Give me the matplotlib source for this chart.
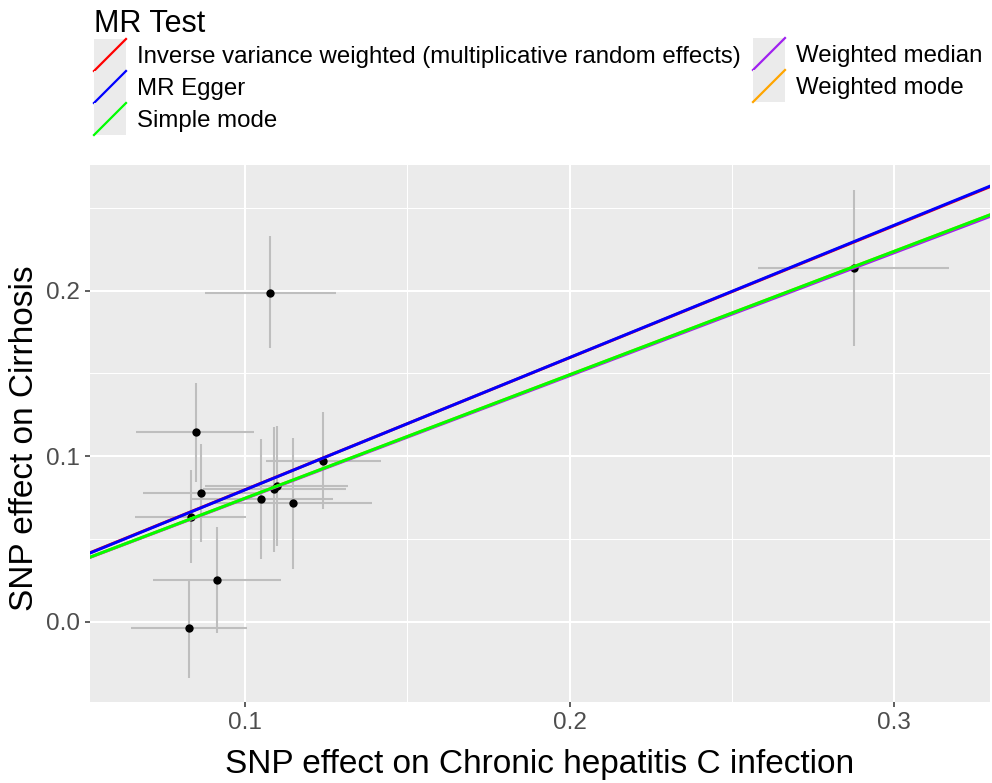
import matplotlib
matplotlib.use("Agg")
import matplotlib.pyplot as plt
from matplotlib.legend_handler import HandlerBase
from matplotlib.patches import Rectangle
from matplotlib.lines import Line2D

plt.rcParams['font.family'] = ['Liberation Sans', 'DejaVu Sans']

# SNP effects (exposure: chronic hepatitis C infection, outcome: cirrhosis)
beta_exp = [0.1078, 0.0848, 0.0864, 0.0833, 0.0913, 0.0828, 0.1050, 0.1090, 0.1098, 0.1149, 0.1241, 0.2876]
exp_lo   = [0.0877, 0.0664, 0.0685, 0.0661, 0.0717, 0.0649, 0.0831, 0.0869, 0.0877, 0.0905, 0.1064, 0.2582]
exp_hi   = [0.1280, 0.1029, 0.1044, 0.1002, 0.1110, 0.1007, 0.1272, 0.1311, 0.1318, 0.1392, 0.1419, 0.3170]
beta_out = [0.1984, 0.1144, 0.0776, 0.0634, 0.0250, -0.0040, 0.0741, 0.0800, 0.0822, 0.0715, 0.0973, 0.2135]
out_lo   = [0.1654, 0.0846, 0.0480, 0.0353, -0.0070, -0.0340, 0.0377, 0.0423, 0.0459, 0.0317, 0.0679, 0.1668]
out_hi   = [0.2331, 0.1444, 0.1072, 0.0917, 0.0574, 0.0252, 0.1104, 0.1178, 0.1184, 0.1112, 0.1265, 0.2608]

methods = ["Inverse variance weighted (multiplicative random effects)", "MR Egger",
           "Simple mode", "Weighted median", "Weighted mode"]
slopes = [0.7975, 0.7995, 0.7460, 0.7430, 0.7460]
intercepts = [0.0, -0.0003, 0.0, 0.0, 0.0]
colors = ["#FF0000", "#0000FF", "#00FF00", "#A020F0", "#FFA500"]
draw_order = [0, 1, 3, 4, 2]

W, H = 992, 783
fig = plt.figure(figsize=(W / 100, H / 100), dpi=100)
ax = fig.add_axes([90 / W, 1 - 702 / H, 900 / W, 537 / H])
ax.set_facecolor("#EBEBEB")
for s in ax.spines.values():
    s.set_visible(False)

ax.set_xlim(0.0522, 0.3296)
ax.set_ylim(-0.0486, 0.2760)
ax.set_xticks([0.1, 0.2, 0.3])
ax.set_xticklabels(["0.1", "0.2", "0.3"])
ax.set_yticks([0.0, 0.1, 0.2])
ax.set_yticklabels(["0.0", "0.1", "0.2"])
ax.set_xticks([0.15, 0.25], minor=True)
ax.set_yticks([0.05, 0.15, 0.25], minor=True)
ax.grid(which="major", color="white", lw=1.5)
ax.grid(which="minor", color="white", lw=0.75)
ax.set_axisbelow(True)
ax.tick_params(which="major", length=3.6, width=1.1, color="#333333",
               labelcolor="#4D4D4D", labelsize=17.5, pad=3.6)
ax.tick_params(which="minor", length=0)

for i in range(len(beta_exp)):
    ax.plot([exp_lo[i], exp_hi[i]], [beta_out[i], beta_out[i]], color="#BEBEBE", lw=1.5, zorder=2,
            solid_capstyle="butt")
    ax.plot([beta_exp[i], beta_exp[i]], [out_lo[i], out_hi[i]], color="#BEBEBE", lw=1.5, zorder=2,
            solid_capstyle="butt")
ax.plot(beta_exp, beta_out, "o", color="black", ms=6, zorder=3, mec="none")

handles = [None] * len(methods)
for k in draw_order:
    ax.axline((0, intercepts[k]), slope=slopes[k], color=colors[k], lw=2.1, zorder=4)
for k in range(len(methods)):
    handles[k] = Line2D([], [], color=colors[k], lw=1.6, label=methods[k])

ax.set_xlabel("SNP effect on Chronic hepatitis C infection", fontsize=24, labelpad=11)
ax.set_ylabel("SNP effect on Cirrhosis", fontsize=24)
ax.yaxis.set_label_coords(-0.056, (702 - 438.5) / 537)


class DiagHandler(HandlerBase):
    def create_artists(self, legend, orig_handle, xdescent, ydescent, width, height, fontsize, trans):
        rect = Rectangle((-xdescent, -ydescent), width, height, facecolor="#EBEBEB",
                         edgecolor="none", transform=trans)
        line = Line2D([-xdescent, -xdescent + width], [-ydescent, -ydescent + height],
                      color=orig_handle.get_color(), lw=orig_handle.get_linewidth(), transform=trans)
        return [rect, line]


fs = 17.25
pt = 72 / 100  # points per pixel
hh = (32 * pt / fs - 0.245) / 0.65
kw = dict(frameon=False, fontsize=fs, handlelength=32 * pt / fs, handleheight=hh,
          labelspacing=0, handletextpad=11 * pt / fs, borderpad=0, borderaxespad=0,
          handler_map={Line2D: DiagHandler()})
leg1 = fig.legend(handles=handles[:3], loc="upper left", bbox_to_anchor=(94 / W, 1 - 9 / H),
                  title="MR Test", title_fontsize=22, alignment="left", **kw)
leg2 = fig.legend(handles=handles[3:], loc="upper left", bbox_to_anchor=(753 / W, 1 - 38 / H), **kw)

fig.savefig("out.png", dpi=100)
